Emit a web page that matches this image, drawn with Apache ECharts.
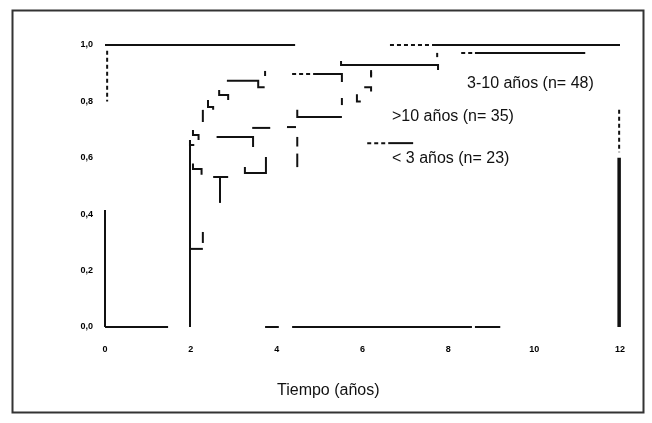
<!DOCTYPE html>
<html>
<head>
<meta charset="utf-8">
<script src="https://cdn.jsdelivr.net/npm/echarts@6/dist/echarts.min.js"></script>
<style>
  html, body { margin: 0; padding: 0; background: #fff; }
  #chart { width: 652px; height: 423px; }
</style>
</head>
<body>
<div id="chart"></div>
<script>
// ejes
var xLabels = ["0", "2", "4", "6", "8", "10", "12"];
var yLabels = ["0,0", "0,2", "0,4", "0,6", "0,8", "1,0"];

// tramos de las curvas (tiempo en años, supervivencia)
var curve310 = [
  [[0, 1.0], [4.43, 1.0]],
  [[7.62, 1.0], [12.0, 1.0]],
  [[7.74, 0.972], [7.74, 0.957]],
  [[8.62, 0.972], [11.19, 0.972]],
  [[5.50, 0.943], [5.50, 0.929], [7.76, 0.929], [7.76, 0.911]],
  [[6.20, 0.911], [6.20, 0.890]],
  [[4.94, 0.897], [5.52, 0.897], [5.52, 0.869]],
  [[3.73, 0.908], [3.73, 0.890]],
  [[2.84, 0.873], [3.57, 0.873], [3.57, 0.850], [3.72, 0.850]],
  [[2.66, 0.840], [2.66, 0.823], [2.87, 0.823], [2.87, 0.805]],
  [[2.40, 0.805], [2.40, 0.780], [2.52, 0.780], [2.52, 0.770]],
  [[2.28, 0.770], [2.28, 0.727]],
  [[2.05, 0.699], [2.05, 0.681], [2.18, 0.681], [2.18, 0.663]],
  [[1.98, 0.663], [1.98, 0.645], [2.08, 0.645]]
];
var curve10 = [
  [[2.60, 0.674], [3.45, 0.674], [3.45, 0.638]],
  [[3.43, 0.706], [3.85, 0.706]],
  [[4.24, 0.709], [4.45, 0.709]],
  [[4.48, 0.770], [4.48, 0.745], [5.52, 0.745]],
  [[5.52, 0.812], [5.52, 0.787]],
  [[4.48, 0.674], [4.48, 0.640]],
  [[4.48, 0.615], [4.48, 0.567]],
  [[5.87, 0.825], [5.87, 0.800], [5.96, 0.800]],
  [[6.04, 0.850], [6.20, 0.850], [6.20, 0.835]],
  [[6.20, 0.905], [6.20, 0.885]]
];
var curve3 = [
  [[3.26, 0.567], [3.26, 0.546], [3.75, 0.546], [3.75, 0.603]],
  [[2.52, 0.532], [2.87, 0.532]],
  [[2.68, 0.532], [2.68, 0.440]],
  [[2.05, 0.580], [2.05, 0.560], [2.25, 0.560], [2.25, 0.540]],
  [[1.98, 0.277], [2.28, 0.277]],
  [[2.28, 0.337], [2.28, 0.298]],
  [[6.60, 0.652], [7.18, 0.652]]
];
var axisTrace = [
  [[0, 0.415], [0, 0]],
  [[1.98, 0.663], [1.98, 0]],
  [[0, 0], [1.47, 0]],
  [[3.73, 0], [4.05, 0]],
  [[4.36, 0], [8.55, 0]],
  [[8.62, 0], [9.21, 0]]
];
var endTrace = [
  [[11.98, 0.60], [11.98, 0]]
];
var dashBits = [
  [[4.36, 0.897], [4.94, 0.897]],
  [[6.11, 0.652], [6.60, 0.652]],
  [[6.64, 1.0], [7.58, 1.0]],
  [[8.30, 0.972], [8.58, 0.972]],
  [[0.05, 0.98], [0.05, 0.80]],
  [[11.98, 0.77], [11.98, 0.62]]
];

var groupNames = ["3-10 años (n= 48)", ">10 años (n= 35)", "< 3 años (n= 23)"];

function toLines(name, segs, width, type) {
  return {
    name: name,
    type: "lines",
    coordinateSystem: "cartesian2d",
    polyline: true,
    silent: true,
    lineStyle: { color: "#111", width: width, type: type || "solid", opacity: 1 },
    data: segs.map(function (s) { return { coords: s }; })
  };
}

var textFont = "16px 'Liberation Sans'";

var myChart = echarts.init(document.getElementById("chart"));
var option = {
  animation: false,
  backgroundColor: "#fff",
  grid: { left: 105, right: 32, top: 45, bottom: 96 },
  xAxis: {
    type: "value",
    min: 0, max: 12, interval: 2,
    axisLine: { show: false },
    axisTick: { show: false },
    splitLine: { show: false },
    axisLabel: {
      margin: 18, fontSize: 9, color: "#000", fontWeight: "bold",
      fontFamily: "Liberation Sans",
      formatter: function (v) { return xLabels[v / 2]; }
    }
  },
  yAxis: {
    type: "value",
    min: 0, max: 1, interval: 0.2,
    axisLine: { show: false },
    axisTick: { show: false },
    splitLine: { show: false },
    axisLabel: {
      margin: 12, fontSize: 9, color: "#000", fontWeight: "bold",
      fontFamily: "Liberation Sans",
      formatter: function (v) { return yLabels[Math.round(v * 5)]; }
    }
  },
  graphic: [
    { type: "rect", left: 10, top: 8, shape: { width: 631, height: 402 },
      style: { fill: "none", stroke: "#333", lineWidth: 2 } },
    { type: "text", left: 467, top: 76,
      style: { text: groupNames[0], font: textFont, fill: "#111" } },
    { type: "text", left: 392, top: 109,
      style: { text: groupNames[1], font: textFont, fill: "#111" } },
    { type: "text", left: 392, top: 151,
      style: { text: groupNames[2], font: textFont, fill: "#111" } },
    { type: "text", left: 277, top: 383,
      style: { text: "Tiempo (años)", font: textFont, fill: "#111" } }
  ],
  series: [
    toLines("axis", axisTrace, 2),
    toLines("end", endTrace, 3.5),
    toLines(groupNames[0], curve310, 2),
    toLines(groupNames[1], curve10, 2),
    toLines(groupNames[2], curve3, 2),
    toLines("dash", dashBits, 2, [4, 3])
  ]
};
myChart.setOption(option);
</script>
</body>
</html>
